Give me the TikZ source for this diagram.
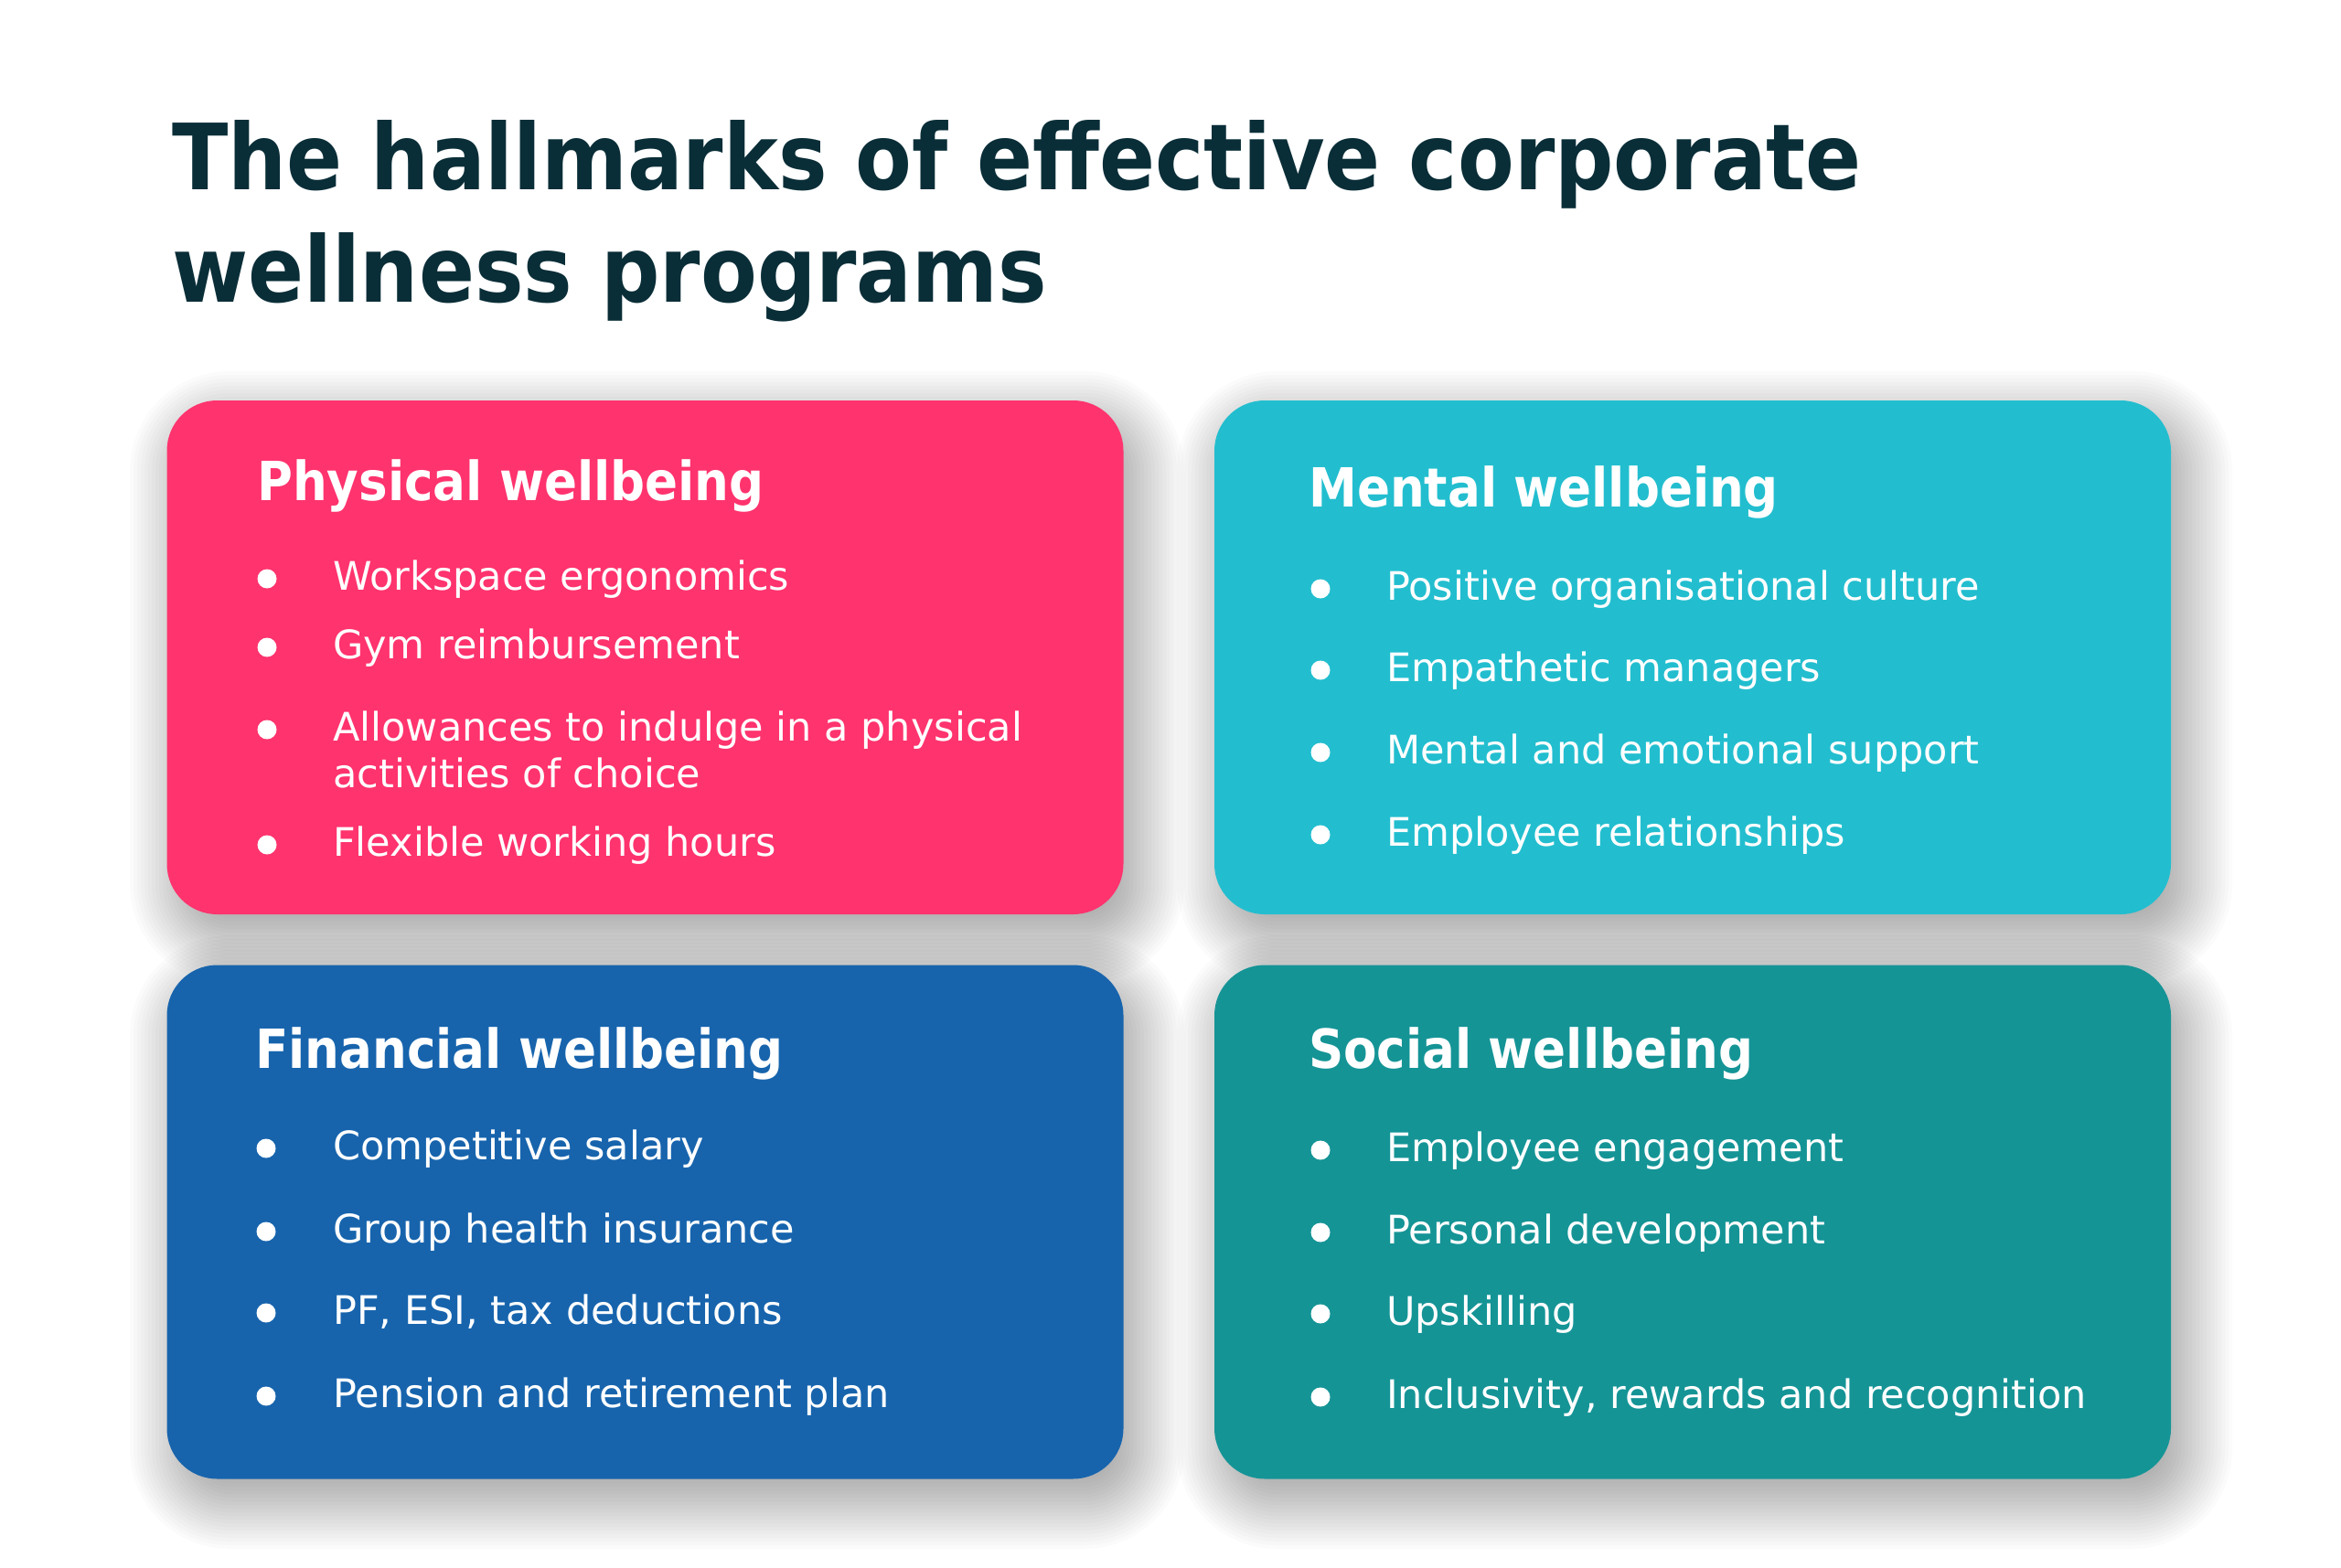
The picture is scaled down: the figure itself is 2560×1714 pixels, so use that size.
\documentclass[tikz,border=0pt]{standalone}
\usepackage{fontspec}
\setmainfont{DejaVu Sans}
\newfontfamily\condfont{DejaVu Sans Condensed}
\definecolor{titlec}{HTML}{0A2E38}
\definecolor{pinkc}{HTML}{FF336E}
\definecolor{cyanc}{HTML}{22BECF}
\definecolor{bluec}{HTML}{1764AD}
\definecolor{tealc}{HTML}{159496}
\newcommand{\cardshadow}[4]{%
  \foreach \e [evaluate=\e as \r using 55+\e] in {-30,-26,...,54}{%
    \fill[black,opacity=0.017,rounded corners=\r pt] ({#1-\e+13},{#2-\e+22}) rectangle ({#3+\e+13},{#4+\e+22});}}
\begin{document}
\begin{tikzpicture}[x=1pt,y=-1pt,
 card/.style={rounded corners=55pt, minimum width=1046pt, minimum height=562pt, inner sep=0pt, draw=none},
 ttl/.style={anchor=base west, inner sep=0pt, text=titlec, font=\condfont\bfseries\fontsize{100}{123}\selectfont},
 head/.style={anchor=base west, inner sep=0pt, text=white, font=\condfont\bfseries\fontsize{59}{70}\selectfont},
 itm/.style={anchor=base west, inner sep=0pt, text=white, font=\fontsize{43}{51}\selectfont, align=left},
 dot/.style={circle, fill=white, minimum size=21pt, inner sep=0pt}]
\fill[white] (0,0) rectangle (2560,1714);
\useasboundingbox (0,0) rectangle (2560,1714);

\node[ttl] (t1) at (188,207) {The hallmarks of effective corporate};
\node[ttl] (t2) at (188,330) {wellness programs};

% shadows
\cardshadow{183}{438}{1228}{1000}
\cardshadow{1328}{438}{2374}{1000}
\cardshadow{183}{1055}{1228}{1618}
\cardshadow{1328}{1055}{2374}{1618}

% cards
\node[card, fill=pinkc] (phys) at (705.5,719) {};
\node[card, fill=cyanc] (ment) at (1851,719) {};
\node[card, fill=bluec] (fin) at (705.5,1336.5) {};
\node[card, fill=tealc] (soc) at (1851,1336.5) {};

% Physical
\node[head] (ph) at (281,547) {Physical wellbeing};
\node[dot] (pd1) at (292,633) {};
\node[itm] (pi1) at (364,645) {Workspace ergonomics};
\node[dot] (pd2) at (292,708) {};
\node[itm] (pi2) at (364,720) {Gym reimbursement};
\node[dot] (pd3) at (292,798) {};
\node[itm] (pi3) at (364,861) {Allowances to indulge in a physical\\activities of choice};
\node[dot] (pd4) at (292,924) {};
\node[itm] (pi4) at (364,936) {Flexible working hours};

% Mental
\node[head] (mh) at (1431,554) {Mental wellbeing};
\node[dot] (md1) at (1444,644) {};
\node[itm] (mi1) at (1516,656) {Positive organisational culture};
\node[dot] (md2) at (1444,733) {};
\node[itm] (mi2) at (1516,745) {Empathetic managers};
\node[dot] (md3) at (1444,823) {};
\node[itm] (mi3) at (1516,835) {Mental and emotional support};
\node[dot] (md4) at (1444,913) {};
\node[itm] (mi4) at (1516,925) {Employee relationships};

% Financial
\node[head] (fh) at (279,1168) {Financial wellbeing};
\node[dot] (fd1) at (291,1256) {};
\node[itm] (fi1) at (364,1268) {Competitive salary};
\node[dot] (fd2) at (291,1347) {};
\node[itm] (fi2) at (364,1359) {Group health insurance};
\node[dot] (fd3) at (291,1436) {};
\node[itm] (fi3) at (364,1448) {PF, ESI, tax deductions};
\node[dot] (fd4) at (291,1527) {};
\node[itm] (fi4) at (364,1539) {Pension and retirement plan};

% Social
\node[head] (sh) at (1431,1168) {Social wellbeing};
\node[dot] (sd1) at (1444,1258) {};
\node[itm] (si1) at (1516,1270) {Employee engagement};
\node[dot] (sd2) at (1444,1348) {};
\node[itm] (si2) at (1516,1360) {Personal development};
\node[dot] (sd3) at (1444,1437) {};
\node[itm] (si3) at (1516,1449) {Upskilling};
\node[dot] (sd4) at (1444,1528) {};
\node[itm] (si4) at (1516,1540) {Inclusivity, rewards and recognition};
\end{tikzpicture}
\end{document}
